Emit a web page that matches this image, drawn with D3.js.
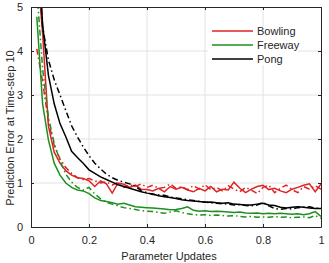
<!DOCTYPE html>
<html>
<head>
<meta charset="utf-8">
<script src="https://cdn.jsdelivr.net/npm/d3@7"></script>
<style>
  body { margin: 0; background: #fff; }
  svg { display: block; font-family: "Liberation Sans", Arial, sans-serif; }
</style>
</head>
<body>
<svg id="chart" width="329" height="263"></svg>
<script>
// evaluation points (parameter updates, normalised)
var updates = [0.02, 0.04, 0.06, 0.08, 0.10, 0.12, 0.14, 0.16, 0.18, 0.20,
    0.22, 0.24, 0.26, 0.28, 0.30, 0.32, 0.34, 0.36, 0.38, 0.40,
    0.42, 0.44, 0.46, 0.48, 0.50, 0.52, 0.54, 0.56, 0.58, 0.60,
    0.62, 0.64, 0.66, 0.68, 0.70, 0.72, 0.74, 0.76, 0.78, 0.80,
    0.82, 0.84, 0.86, 0.88, 0.90, 0.92, 0.94, 0.96, 0.98, 1.00];

var bowlingSolid = [6.0, 4.4, 2.3, 1.7, 1.45, 1.28, 1.18, 1.12, 1.1, 1.05,
    0.92, 1.05, 0.98, 0.77, 1.0, 0.97, 0.9, 0.95, 0.86, 0.85,
    0.82, 0.88, 0.8, 0.92, 0.86, 0.9, 0.84, 0.8, 0.88, 0.82,
    0.92, 0.8, 0.86, 0.84, 1.02, 0.88, 0.78, 0.86, 0.92, 0.95,
    0.85, 0.88, 0.82, 0.78, 0.86, 0.9, 0.95, 0.98, 0.8, 0.98];
var bowlingDash = [4.05, 3.3, 2.4, 1.85, 1.55, 1.35, 1.22, 1.12, 1.08, 1.1,
    1.05, 1.0, 1.03, 0.95, 1.02, 0.9, 0.96, 0.92, 0.98, 0.9,
    0.95, 0.88, 0.9, 0.98, 0.88, 0.92, 0.85, 0.94, 0.86, 0.96,
    0.85, 0.9, 0.82, 0.94, 0.86, 0.8, 0.9, 0.84, 0.76, 0.9,
    0.95, 0.78, 0.88, 0.95, 0.85, 0.78, 0.92, 0.86, 0.94, 0.86];
var freewaySolid = [4.78, 2.8, 1.98, 1.45, 1.18, 1.0, 0.9, 0.84, 0.82, 0.76,
    0.66, 0.6, 0.58, 0.55, 0.52, 0.54, 0.5, 0.46, 0.45, 0.44,
    0.43, 0.42, 0.41, 0.39, 0.4, 0.42, 0.46, 0.38, 0.36, 0.37,
    0.35, 0.36, 0.35, 0.34, 0.33, 0.34, 0.32, 0.31, 0.32, 0.3,
    0.31, 0.3, 0.31, 0.3, 0.29, 0.3, 0.28, 0.3, 0.35, 0.24];
var freewayDash = [5.4, 3.6, 2.5, 1.9, 1.5, 1.2, 1.02, 0.9, 0.84, 0.9,
    0.75, 0.64, 0.56, 0.52, 0.48, 0.44, 0.42, 0.4, 0.37, 0.36,
    0.35, 0.33, 0.31, 0.34, 0.37, 0.33, 0.3, 0.28, 0.27, 0.28,
    0.26, 0.27, 0.26, 0.25, 0.26, 0.24, 0.23, 0.24, 0.22, 0.23,
    0.22, 0.24, 0.22, 0.23, 0.21, 0.22, 0.23, 0.21, 0.26, 0.2];
var pongSolid = [7.0, 4.6, 3.45, 2.8, 2.35, 2.05, 1.72, 1.58, 1.45, 1.3,
    1.22, 1.14, 1.08, 1.02, 0.96, 0.92, 0.88, 0.84, 0.8, 0.77,
    0.75, 0.71, 0.69, 0.67, 0.65, 0.62, 0.6, 0.59, 0.58, 0.56,
    0.57, 0.55, 0.54, 0.55, 0.52, 0.51, 0.5, 0.5, 0.52, 0.54,
    0.5, 0.49, 0.45, 0.43, 0.45, 0.46, 0.45, 0.43, 0.42, 0.42];
var pongDash = [6.5, 4.55, 3.8, 3.35, 3.0, 2.65, 2.3, 2.05, 1.82, 1.62,
    1.45, 1.32, 1.2, 1.12, 1.06, 1.02, 0.98, 0.93, 0.82, 0.78,
    0.74, 0.73, 0.72, 0.68, 0.66, 0.64, 0.62, 0.6, 0.58, 0.57,
    0.55, 0.54, 0.53, 0.52, 0.5, 0.51, 0.49, 0.48, 0.5, 0.56,
    0.48, 0.42, 0.4, 0.42, 0.41, 0.44, 0.45, 0.46, 0.43, 0.42];

var xTicks = [0, 0.2, 0.4, 0.6, 0.8, 1];
var yTicks = [0, 1, 2, 3, 4, 5];
var games = ['Bowling', 'Freeway', 'Pong'];
var colors = ['#dd2323', '#1e8f1e', '#000000'];

var margin = { top: 7, left: 31 },
    width = 290, height = 220;

var svg = d3.select('#chart');
var g = svg.append('g').attr('transform', 'translate(' + margin.left + ',' + margin.top + ')');

var x = d3.scaleLinear().domain([0, 1]).range([0, width]);
var y = d3.scaleLinear().domain([0, 5]).range([height, 0]);

svg.append('defs').append('clipPath').attr('id', 'plotClip')
    .append('rect').attr('width', width).attr('height', height);

// grid
g.append('g').selectAll('line').data(xTicks.slice(1, -1)).enter().append('line')
    .attr('x1', x).attr('x2', x).attr('y1', 0).attr('y2', height)
    .attr('stroke', '#e2e2e2').attr('stroke-width', 1);
g.append('g').selectAll('line').data(yTicks.slice(1, -1)).enter().append('line')
    .attr('x1', 0).attr('x2', width).attr('y1', y).attr('y2', y)
    .attr('stroke', '#e2e2e2').attr('stroke-width', 1);

// series
var series = [
    { values: bowlingSolid, color: colors[0], dash: null },
    { values: bowlingDash, color: colors[0], dash: '6,3,1.5,3' },
    { values: freewaySolid, color: colors[1], dash: null },
    { values: freewayDash, color: colors[1], dash: '6,3,1.5,3' },
    { values: pongSolid, color: colors[2], dash: null },
    { values: pongDash, color: colors[2], dash: '6,3,1.5,3' }
];
var line = d3.line()
    .x(function (d, i) { return x(updates[i]); })
    .y(function (d) { return y(d); });
g.append('g').attr('clip-path', 'url(#plotClip)')
    .selectAll('path').data(series).enter().append('path')
    .attr('d', function (s) { return line(s.values); })
    .attr('fill', 'none')
    .attr('stroke', function (s) { return s.color; })
    .attr('stroke-width', 1.5)
    .attr('stroke-dasharray', function (s) { return s.dash; });

// axes (ticks inside, box all round)
var axisColor = '#262626';
var xAxis = g.append('g').attr('transform', 'translate(0,' + height + ')')
    .call(d3.axisBottom(x).tickValues(xTicks).tickSizeInner(-3).tickSizeOuter(0).tickPadding(9)
        .tickFormat(function (d) { return d === 0 || d === 1 ? d : d3.format('.1f')(d); }));
var xAxisTop = g.append('g')
    .call(d3.axisTop(x).tickValues(xTicks).tickSizeInner(-3).tickSizeOuter(0).tickFormat(''));
var yAxis = g.append('g')
    .call(d3.axisLeft(y).tickValues(yTicks).tickSizeInner(-3).tickSizeOuter(0).tickPadding(8)
        .tickFormat(d3.format('d')));
var yAxisRight = g.append('g').attr('transform', 'translate(' + width + ',0)')
    .call(d3.axisRight(y).tickValues(yTicks).tickSizeInner(-3).tickSizeOuter(0).tickFormat(''));
[xAxis, xAxisTop, yAxis, yAxisRight].forEach(function (a) {
    a.select('.domain').attr('stroke', axisColor).attr('stroke-width', 1);
    a.selectAll('.tick line').attr('stroke', axisColor);
    a.selectAll('.tick text').attr('fill', axisColor).style('font-size', '11px')
        .style('font-family', '"Liberation Sans", Arial, sans-serif');
});

// labels
g.append('text')
    .attr('x', 169 - margin.left).attr('y', height + 33)
    .attr('text-anchor', 'middle')
    .attr('fill', axisColor).style('font-size', '11px')
    .text('Parameter Updates');
g.append('text')
    .attr('transform', 'translate(-17,' + (128 - margin.top) + ') rotate(-90)')
    .attr('text-anchor', 'middle')
    .attr('fill', axisColor).style('font-size', '11px')
    .text('Prediction Error at Time-step 10');

// legend
var legend = g.append('g').attr('transform', 'translate(' + (208 - margin.left) + ',' + (27 - margin.top) + ')');
legend.append('rect').attr('width', 90).attr('height', 38).attr('fill', '#fff');
var item = legend.selectAll('g.item').data(games).enter().append('g')
    .attr('class', 'item')
    .attr('transform', function (d, i) { return 'translate(0,' + (4 + i * 14) + ')'; });
item.append('line')
    .attr('x1', 4).attr('x2', 45).attr('y1', 0).attr('y2', 0)
    .attr('stroke', function (d, i) { return colors[i]; })
    .attr('stroke-width', 1.5);
item.append('text')
    .attr('x', 49).attr('y', 4)
    .attr('fill', axisColor).style('font-size', '11px')
    .text(function (d) { return d; });
</script>
</body>
</html>
